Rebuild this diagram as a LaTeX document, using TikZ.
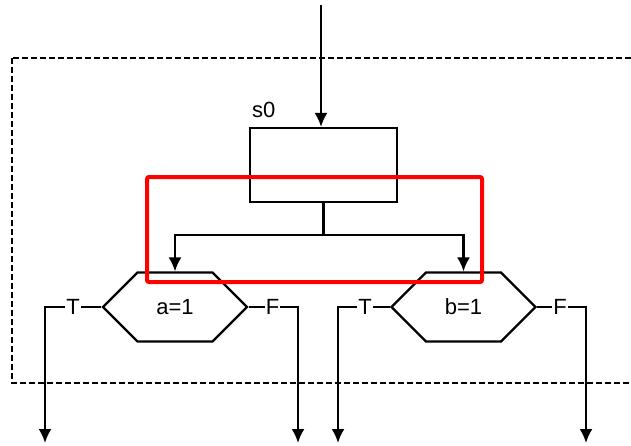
\documentclass[tikz,border=0pt]{standalone}
\usepackage{fontspec}
\setmainfont{Liberation Sans}
\usetikzlibrary{shapes.symbols, arrows.meta}
\tikzstyle{estado} = [rectangle, draw, line width=2.2pt, minimum width=147pt, minimum height=74pt, inner sep=0pt]
\tikzstyle{teste} = [signal, draw, line width=2.2pt, signal to=west and east, signal pointer angle=90, minimum width=144pt, minimum height=69pt, inner sep=0pt, text centered]
\tikzstyle{rotulo} = [inner sep=1pt]
\tikzstyle{connector} = [draw, line width=2.2pt, -{Latex[length=14pt, width=13pt]}]
\tikzstyle{linha} = [draw, line width=2.2pt]
\tikzstyle{bloco} = [draw, line width=2pt, dash pattern=on 6pt off 3pt]

\begin{document}
\begin{tikzpicture}[x=1pt, y=-1pt, font=\fontsize{22}{26}\selectfont]
\useasboundingbox (0,0) rectangle (631,445);

%---------------------------------------------
%Bloco tracejado em volta do estado
%---------------------------------------------
\path [bloco] (12,58) rectangle (640,383);

%---------------------------------------------
%Estado s0 e os dois testes
%---------------------------------------------
\node [estado, label={[rotulo, anchor=south west, inner sep=0pt, xshift=3pt, yshift=9pt]north west:s0}] at (323.5,165) (s0) {};

\node [teste] at (175,307) (testea) {a=1};
\node [teste] at (463.5,307) (testeb) {b=1};

%saidas T e F de cada teste
\node [rotulo] at (73,307) (aT) {T};
\node [rotulo] at (272.5,307) (aF) {F};
\node [rotulo] at (365,307) (bT) {T};
\node [rotulo] at (560,307) (bF) {F};

\coordinate (entrada) at (321,5);
\coordinate (divisao) at (323.5,235);
\coordinate (aTfim) at (45,443);
\coordinate (aFfim) at (298,443);
\coordinate (bTfim) at (338,443);
\coordinate (bFfim) at (586,443);

%---------------------------------------------
%Conexão e flechas
%---------------------------------------------
\path [connector] (entrada) -- (entrada |- s0.north);
\path [linha] (s0.south) -- (divisao);
\path [connector] (divisao) -| (testea.north);
\path [connector] (divisao) -| (testeb.north);

\path [linha] (testea.west) -- (aT.east);
\path [linha] (testea.east) -- (aF.west);
\path [linha] (testeb.west) -- (bT.east);
\path [linha] (testeb.east) -- (bF.west);

\path [connector] (aT.west) -| (aTfim);
\path [connector] (aF.east) -| (aFfim);
\path [connector] (bT.west) -| (bTfim);
\path [connector] (bF.east) -| (bFfim);

%destaque em vermelho
\draw [red, line width=4pt, rounded corners=2pt] (147,177) rectangle (482,282);

\end{tikzpicture}
\end{document}
